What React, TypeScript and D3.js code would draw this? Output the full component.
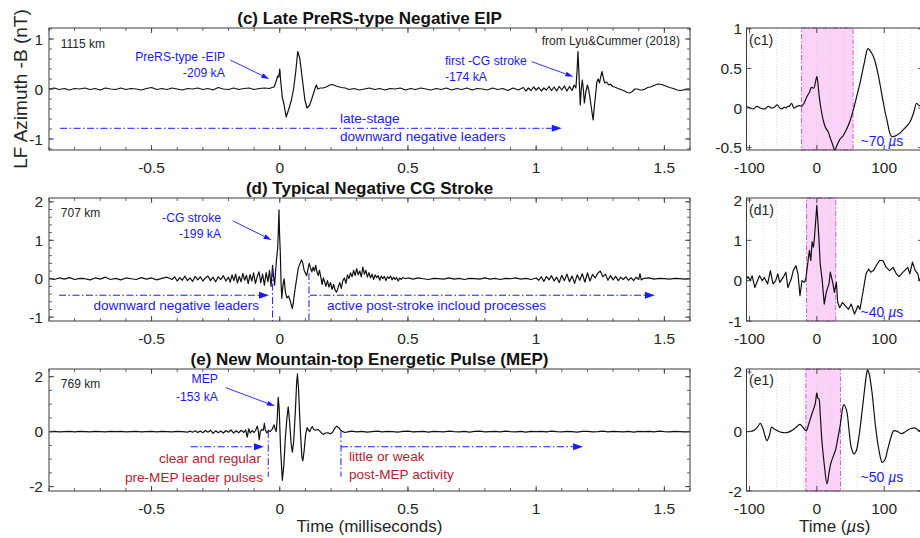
import React from "react";
import * as d3 from "d3";

type Pt = [number, number];

// ---- LF waveforms: [time (ms), azimuthal field -B (nT)] ----
const traceC: Pt[] = [
  [-0.9, 0.0], [-0.88, 0.02], [-0.86, -0.01], [-0.84, 0.01], [-0.82, -0.02], [-0.8, 0.01], [-0.78, 0.0], [-0.76, 0.02],
  [-0.74, -0.01], [-0.72, 0.01], [-0.7, -0.02], [-0.68, 0.02], [-0.66, 0.0], [-0.64, -0.01], [-0.62, 0.02], [-0.6, -0.01],
  [-0.58, 0.01], [-0.56, 0.0], [-0.54, -0.02], [-0.52, 0.01], [-0.5, 0.03], [-0.48, -0.01], [-0.46, 0.01], [-0.44, -0.01],
  [-0.42, 0.02], [-0.4, 0.0], [-0.38, -0.02], [-0.36, 0.01], [-0.34, 0.0], [-0.32, 0.02], [-0.3, -0.01], [-0.28, 0.01],
  [-0.26, -0.02], [-0.24, 0.03], [-0.22, 0.0], [-0.2, -0.01], [-0.18, 0.02], [-0.16, -0.01], [-0.14, 0.01], [-0.12, 0.02],
  [-0.1, -0.01], [-0.08, 0.01], [-0.06, 0.02], [-0.04, 0.01], [-0.03, 0.03], [-0.022, 0.04], [-0.015, 0.14], [-0.008, 0.26],
  [-0.004, 0.24], [0.0, 0.4], [0.004, 0.14], [0.01, -0.17], [0.017, -0.32], [0.025, -0.56], [0.034, -0.42], [0.044, -0.25],
  [0.054, 0.0], [0.063, 0.38], [0.07, 0.75], [0.078, 0.62], [0.088, 0.2], [0.098, -0.22], [0.106, -0.38], [0.116, -0.33],
  [0.128, -0.15], [0.138, 0.02], [0.143, 0.08], [0.148, 0.0], [0.158, 0.02], [0.17, 0.02], [0.185, 0.05], [0.195, 0.08],
  [0.205, 0.09], [0.215, 0.07], [0.225, 0.05], [0.24, 0.03], [0.255, 0.02], [0.27, -0.01], [0.29, 0.01], [0.31, -0.02],
  [0.33, 0.0], [0.35, 0.02], [0.37, -0.01], [0.39, 0.01], [0.41, -0.02], [0.43, 0.01], [0.45, 0.0], [0.47, 0.02],
  [0.49, -0.02], [0.51, 0.01], [0.53, -0.01], [0.55, 0.02], [0.57, 0.0], [0.59, -0.02], [0.61, 0.01], [0.63, -0.01],
  [0.65, 0.02], [0.67, -0.02], [0.69, 0.01], [0.71, -0.01], [0.73, 0.02], [0.75, -0.02], [0.77, 0.01], [0.79, 0.0],
  [0.81, -0.02], [0.83, 0.02], [0.85, -0.01], [0.87, 0.01], [0.89, -0.03], [0.91, 0.02], [0.93, -0.02], [0.95, 0.03],
  [0.96, -0.04], [0.97, 0.02], [0.98, -0.03], [0.99, 0.04], [1.0, -0.02], [1.01, 0.03], [1.02, -0.04], [1.03, 0.02],
  [1.04, -0.02], [1.05, 0.05], [1.06, -0.03], [1.07, 0.04], [1.08, -0.04], [1.09, 0.05], [1.1, -0.02], [1.11, 0.06],
  [1.12, -0.04], [1.13, 0.05], [1.14, -0.03], [1.148, 0.08], [1.155, 0.02], [1.16, 0.4], [1.163, 0.75], [1.167, 0.3],
  [1.172, -0.32], [1.176, 0.0], [1.18, 0.18], [1.184, 0.0], [1.188, -0.28], [1.194, -0.05], [1.2, 0.08], [1.205, -0.02],
  [1.21, -0.18], [1.216, -0.4], [1.222, -0.62], [1.227, -0.35], [1.232, -0.1], [1.237, 0.15], [1.242, 0.2], [1.247, 0.12],
  [1.252, 0.25], [1.257, 0.35], [1.262, 0.22], [1.267, 0.12], [1.275, 0.14], [1.283, 0.08], [1.29, 0.1], [1.298, 0.05],
  [1.306, 0.04], [1.315, 0.02], [1.325, 0.0], [1.335, -0.02], [1.345, -0.04], [1.355, -0.07], [1.365, -0.08], [1.375, -0.05],
  [1.385, 0.0], [1.395, 0.0], [1.405, -0.02], [1.415, -0.02], [1.425, 0.0], [1.435, 0.03], [1.445, 0.04], [1.46, 0.07],
  [1.475, 0.1], [1.49, 0.09], [1.505, 0.06], [1.52, 0.03], [1.535, 0.01], [1.55, -0.02], [1.565, -0.03], [1.58, -0.01],
  [1.6, -0.02],
];

const traceD: Pt[] = [
  [-0.9, 0.01], [-0.88, -0.02], [-0.86, 0.02], [-0.84, -0.01], [-0.82, 0.03], [-0.8, -0.02], [-0.78, 0.01], [-0.76, 0.0],
  [-0.74, -0.03], [-0.72, 0.02], [-0.7, -0.01], [-0.68, 0.04], [-0.66, -0.02], [-0.64, 0.01], [-0.62, -0.03], [-0.6, 0.02],
  [-0.58, 0.0], [-0.56, -0.02], [-0.54, 0.03], [-0.52, -0.01], [-0.5, 0.02], [-0.48, -0.03], [-0.46, 0.01], [-0.44, 0.04],
  [-0.42, -0.02], [-0.41, 0.05], [-0.4, -0.06], [-0.39, 0.03], [-0.38, -0.04], [-0.37, 0.07], [-0.36, -0.05], [-0.35, 0.02],
  [-0.34, -0.07], [-0.33, 0.06], [-0.32, -0.03], [-0.31, 0.05], [-0.3, -0.06], [-0.29, 0.02], [-0.28, 0.07], [-0.27, -0.05],
  [-0.26, 0.04], [-0.25, -0.08], [-0.24, 0.05], [-0.23, -0.02], [-0.22, 0.08], [-0.21, -0.06], [-0.2, 0.04], [-0.193, -0.09],
  [-0.186, 0.1], [-0.179, -0.05], [-0.172, 0.12], [-0.165, -0.11], [-0.158, 0.06], [-0.151, -0.08], [-0.144, 0.14], [-0.137, -0.04],
  [-0.13, 0.09], [-0.123, -0.13], [-0.116, 0.11], [-0.109, -0.06], [-0.102, 0.15], [-0.095, -0.12], [-0.088, 0.05], [-0.081, 0.18],
  [-0.074, -0.1], [-0.067, 0.12], [-0.06, -0.17], [-0.053, 0.16], [-0.046, -0.08], [-0.04, 0.22], [-0.034, -0.2], [-0.028, 0.35],
  [-0.024, 0.05], [-0.02, -0.17], [-0.016, 0.22], [-0.012, 0.55], [-0.008, 0.8], [-0.005, 1.35], [-0.003, 1.79], [-0.001, 1.2],
  [0.002, 0.7], [0.005, -0.1], [0.008, -0.51], [0.012, -0.2], [0.017, 0.0], [0.022, -0.35], [0.028, -0.5], [0.034, -0.45],
  [0.04, -0.55], [0.045, -0.68], [0.049, -0.78], [0.053, -0.62], [0.058, -0.35], [0.062, -0.17], [0.067, 0.05], [0.072, 0.27],
  [0.078, 0.38], [0.085, 0.49], [0.09, 0.4], [0.095, 0.22], [0.1, 0.15], [0.105, 0.08], [0.11, 0.25], [0.115, 0.4],
  [0.12, 0.28], [0.125, 0.18], [0.13, 0.3], [0.135, 0.2], [0.14, 0.35], [0.145, 0.18], [0.15, 0.08], [0.155, 0.22],
  [0.16, 0.05], [0.165, -0.15], [0.17, 0.02], [0.175, -0.08], [0.18, -0.2], [0.186, -0.05], [0.192, -0.22], [0.198, -0.1],
  [0.204, -0.28], [0.21, -0.15], [0.216, -0.3], [0.222, -0.35], [0.228, -0.22], [0.234, -0.1], [0.24, -0.25], [0.246, -0.05],
  [0.252, 0.02], [0.258, -0.12], [0.264, 0.1], [0.27, 0.0], [0.276, 0.15], [0.282, 0.05], [0.288, 0.22], [0.294, 0.08],
  [0.3, 0.26], [0.306, 0.1], [0.312, 0.2], [0.318, 0.05], [0.324, 0.3], [0.33, 0.12], [0.336, 0.22], [0.342, 0.04],
  [0.348, 0.16], [0.354, 0.02], [0.36, 0.12], [0.366, -0.02], [0.372, 0.1], [0.378, 0.03], [0.384, 0.08], [0.39, -0.04],
  [0.396, 0.07], [0.402, 0.0], [0.408, 0.06], [0.414, -0.05], [0.42, 0.05], [0.426, 0.01], [0.432, 0.07], [0.438, -0.03],
  [0.444, 0.04], [0.45, -0.02], [0.456, 0.03], [0.462, -0.06], [0.468, 0.02], [0.474, -0.02], [0.48, 0.03], [0.49, 0.0],
  [0.5, 0.02], [0.52, -0.01], [0.54, 0.02], [0.56, 0.0], [0.58, -0.02], [0.6, 0.01], [0.62, 0.0], [0.64, -0.01],
  [0.66, 0.02], [0.68, -0.01], [0.7, 0.01], [0.72, -0.02], [0.74, 0.01], [0.76, 0.0], [0.78, -0.01], [0.8, 0.02],
  [0.82, -0.01], [0.84, 0.01], [0.86, -0.02], [0.88, 0.01], [0.9, 0.0], [0.92, 0.02], [0.94, -0.01], [0.96, 0.01],
  [0.98, -0.02], [1.0, 0.02], [1.01, -0.04], [1.02, 0.05], [1.03, -0.07], [1.04, 0.06], [1.05, -0.03], [1.06, 0.08],
  [1.07, -0.06], [1.08, 0.04], [1.09, -0.1], [1.1, 0.09], [1.11, -0.05], [1.12, 0.12], [1.13, -0.08], [1.14, 0.07],
  [1.15, -0.12], [1.16, 0.1], [1.17, -0.04], [1.18, 0.13], [1.19, -0.09], [1.2, 0.15], [1.21, -0.06], [1.22, 0.11],
  [1.23, 0.02], [1.24, 0.14], [1.25, 0.2], [1.26, 0.05], [1.27, 0.12], [1.28, -0.04], [1.29, 0.08], [1.3, -0.03],
  [1.31, 0.06], [1.32, -0.05], [1.33, 0.04], [1.34, -0.02], [1.35, 0.05], [1.36, -0.04], [1.37, 0.03], [1.38, -0.05],
  [1.39, 0.04], [1.4, -0.02], [1.405, 0.13], [1.41, -0.03], [1.42, 0.01], [1.44, 0.02], [1.46, -0.01], [1.48, 0.01],
  [1.5, 0.0], [1.52, -0.01], [1.54, 0.01], [1.56, 0.0], [1.58, -0.01], [1.6, 0.0],
];

const traceE: Pt[] = [
  [-0.9, 0.0], [-0.88, 0.01], [-0.86, -0.01], [-0.84, 0.0], [-0.82, 0.01], [-0.8, -0.01], [-0.78, 0.01], [-0.76, 0.0],
  [-0.74, -0.01], [-0.72, 0.01], [-0.7, 0.0], [-0.68, -0.01], [-0.66, 0.01], [-0.64, 0.0], [-0.62, 0.01], [-0.6, -0.01],
  [-0.58, 0.0], [-0.56, 0.01], [-0.54, -0.01], [-0.52, 0.0], [-0.5, 0.01], [-0.48, -0.01], [-0.46, 0.01], [-0.44, 0.0],
  [-0.42, -0.01], [-0.4, 0.01], [-0.38, 0.0], [-0.36, -0.02], [-0.35, 0.02], [-0.34, -0.02], [-0.33, 0.03], [-0.32, -0.03],
  [-0.31, 0.02], [-0.3, -0.04], [-0.29, 0.04], [-0.28, -0.02], [-0.27, 0.05], [-0.26, -0.06], [-0.25, 0.03], [-0.24, -0.04],
  [-0.23, 0.02], [-0.22, -0.05], [-0.21, 0.04], [-0.2, -0.02], [-0.19, 0.06], [-0.18, -0.05], [-0.17, 0.03], [-0.16, -0.04],
  [-0.15, 0.05], [-0.14, -0.03], [-0.133, 0.06], [-0.127, -0.2], [-0.121, 0.1], [-0.115, -0.05], [-0.108, 0.04], [-0.1, -0.03],
  [-0.094, 0.05], [-0.088, 0.2], [-0.084, 0.05], [-0.08, -0.3], [-0.076, 0.0], [-0.07, 0.08], [-0.064, 0.05], [-0.06, 0.3],
  [-0.056, 0.05], [-0.05, -0.05], [-0.044, 0.05], [-0.038, 0.0], [-0.03, 0.08], [-0.022, 0.25], [-0.018, 0.1], [-0.014, 0.0],
  [-0.01, 0.45], [-0.006, 1.25], [-0.002, 0.8], [0.003, -0.6], [0.01, -1.77], [0.016, -1.2], [0.022, -0.2], [0.028, 0.5],
  [0.033, 0.9], [0.038, 0.4], [0.044, -0.4], [0.049, -0.75], [0.054, -0.4], [0.06, 0.6], [0.066, 1.8], [0.069, 2.1],
  [0.073, 1.6], [0.08, 0.1], [0.086, -0.9], [0.09, -1.06], [0.095, -0.7], [0.101, -0.1], [0.107, 0.15], [0.112, 0.05],
  [0.117, 0.0], [0.122, 0.12], [0.127, 0.18], [0.133, 0.08], [0.14, 0.05], [0.148, 0.08], [0.156, 0.02], [0.163, -0.05],
  [0.17, -0.1], [0.178, -0.05], [0.188, -0.04], [0.198, -0.08], [0.206, -0.02], [0.214, 0.12], [0.222, 0.2], [0.23, 0.15],
  [0.238, 0.05], [0.246, 0.0], [0.255, -0.03], [0.265, -0.01], [0.28, 0.02], [0.3, -0.01], [0.32, 0.01], [0.34, -0.02],
  [0.36, 0.0], [0.38, 0.02], [0.4, -0.01], [0.42, 0.01], [0.44, 0.0], [0.46, -0.02], [0.48, 0.01], [0.5, 0.02],
  [0.52, -0.01], [0.54, 0.0], [0.56, 0.01], [0.58, -0.02], [0.6, 0.01], [0.62, 0.0], [0.64, -0.01], [0.66, 0.02],
  [0.68, 0.0], [0.7, -0.01], [0.72, 0.01], [0.74, -0.02], [0.76, 0.01], [0.78, 0.02], [0.8, -0.01], [0.82, 0.0],
  [0.84, 0.01], [0.86, -0.01], [0.88, 0.02], [0.9, 0.0], [0.92, -0.01], [0.94, 0.01], [0.96, -0.02], [0.98, 0.01],
  [1.0, 0.0], [1.02, 0.01], [1.04, -0.01], [1.06, 0.02], [1.08, 0.0], [1.1, -0.01], [1.12, 0.01], [1.14, 0.0],
  [1.16, -0.02], [1.18, 0.01], [1.2, 0.01], [1.22, -0.01], [1.24, 0.0], [1.26, 0.02], [1.28, -0.01], [1.3, 0.01],
  [1.32, 0.0], [1.34, -0.01], [1.36, 0.01], [1.38, -0.02], [1.4, 0.01], [1.42, 0.0], [1.44, 0.01], [1.46, -0.01],
  [1.48, 0.02], [1.5, 0.0], [1.52, -0.01], [1.54, 0.01], [1.56, 0.0], [1.58, -0.01], [1.6, 0.0],
];

// ---- zoomed pulses: [time (µs), field (nT)] ----
const zoomC1: Pt[] = [
  [-104, 0.02], [-99, 0.0], [-94, -0.01], [-89, 0.02], [-84, 0.0], [-80, -0.01], [-77, -0.01], [-72, 0.02],
  [-67, 0.0], [-63, 0.01], [-59, 0.04], [-55, 0.0], [-52, -0.01], [-48, 0.01], [-46, 0.0], [-43, 0.02],
  [-41, 0.02], [-37.5, 0.06], [-34, 0.0], [-30, 0.02], [-26, 0.03], [-22.7, 0.02], [-19, 0.06], [-15, 0.14],
  [-11, 0.2], [-8, 0.26], [-4.5, 0.25], [-2, 0.33], [0, 0.4], [1.5, 0.32], [3.5, 0.15], [6, 0.0],
  [9.4, -0.15], [13, -0.25], [16.8, -0.3], [20, -0.38], [23, -0.45], [26.7, -0.53], [30, -0.47], [34, -0.4],
  [39, -0.35], [44, -0.27], [49, -0.17], [54, -0.03], [59, 0.14], [64, 0.31], [70, 0.55], [76, 0.75],
  [81, 0.7], [86, 0.6], [92, 0.38], [98, 0.1], [104, -0.15], [111, -0.36], [117, -0.35], [123, -0.32],
  [130, -0.26], [138, -0.18], [144, -0.05], [148, 0.06], [152, 0.03], [160, 0.05], [170, 0.02],
];

const zoomD1: Pt[] = [
  [-104, 0.05], [-102, 0.1], [-99, 0.0], [-96, 0.12], [-92, -0.17], [-89, -0.04], [-85, 0.12], [-81, 0.0],
  [-78, 0.08], [-73, -0.08], [-69, 0.25], [-65, -0.08], [-61, 0.0], [-58, 0.17], [-55, -0.04], [-50, 0.08],
  [-46, 0.21], [-43, -0.17], [-38, 0.04], [-35, 0.25], [-31, 0.37], [-28, 0.17], [-25, -0.37], [-22, 0.0],
  [-18, -0.04], [-16, 0.08], [-13, 0.5], [-11, 0.75], [-9, 0.5], [-7, 0.96], [-5, 0.83], [-3.5, 1.08],
  [0, 1.87], [3, 1.08], [5, 0.42], [8, 0.0], [11, -0.58], [14, -0.29], [18, -0.08], [20, 0.21],
  [24, -0.08], [26, -0.29], [29, -0.04], [31, -0.54], [34, -0.67], [38, -0.54], [42, -0.62], [47, -0.71],
  [51, -0.58], [56, -0.83], [61, -0.62], [64, -0.71], [68, -0.33], [73, 0.17], [77, 0.29], [80, 0.21],
  [84, 0.25], [88, 0.37], [93, 0.5], [98, 0.5], [103, 0.33], [108, 0.25], [113, 0.33], [118, 0.17],
  [122, 0.1], [128, 0.21], [135, 0.33], [138, 0.17], [142, 0.46], [146, 0.25], [150, 0.17], [152, 0.0],
  [156, 0.12], [162, 0.05], [170, 0.1],
];

const zoomE1: Pt[] = [
  [-104, 0.0], [-100, 0.0], [-94, 0.03], [-89, 0.12], [-84, 0.27], [-80, 0.1], [-77, -0.15], [-74, -0.31],
  [-70, -0.1], [-67, 0.15], [-63, 0.08], [-58, 0.02], [-52, -0.03], [-45, -0.04], [-38, 0.02], [-32, 0.12],
  [-25, 0.24], [-20, 0.12], [-16, 0.02], [-12, 0.25], [-7.5, 0.58], [-2.5, 0.92], [0, 1.3], [1.5, 1.12],
  [3, 1.1], [5, 0.6], [7.5, -0.31], [11, -1.1], [15, -1.76], [18, -1.4], [21, -1.05], [25, -0.8],
  [28, -0.6], [31, -0.25], [35, 0.25], [38, 0.75], [40, 0.9], [44, 0.72], [48, 0.0], [51, -0.53],
  [55, -0.75], [58, -0.68], [62, -0.25], [66, 0.45], [70, 1.24], [74, 1.95], [75.5, 2.08], [78, 1.9],
  [82, 1.3], [87, 0.2], [92, -0.6], [97, -1.04], [101, -0.95], [105, -0.62], [110, -0.2], [114, 0.02],
  [120, 0.0], [125, -0.07], [130, -0.03], [135, 0.05], [140, 0.1], [145, 0.12], [150, 0.05], [155, 0.0],
  [162, -0.03], [170, 0.02],
];

// ---- axis ticks and labels ----
const msTicks = [-0.5, 0, 0.5, 1, 1.5];
const usTicks = [-100, 0, 100];
const yTicksC = [-1, 0, 1];
const yTicksD = [-1, 0, 1, 2];
const yTicksE = [-2, 0, 2];
const yTicksC1 = [-0.5, 0, 0.5, 1];
const yTicksD1 = [-1, 0, 1, 2];
const yTicksE1 = [-2, 0, 2];

const titles = [
  "(c) Late PreRS-type Negative EIP",
  "(d) Typical Negative CG Stroke",
  "(e) New Mountain-top Energetic Pulse (MEP)",
];
const zoomTags = ["(c1)", "(d1)", "(e1)"];
const pulseWindows: Pt[] = [[-22.7, 53.8], [-15.3, 28.1], [-16.3, 35.1]];
const pulseWidthLabels = ["~70", "~40", "~50"];

// ---- styling ----
const FONT = '"Liberation Sans", Arial, Helvetica, sans-serif';
const AXIS = "#3c3c3c";
const INK = "#262626";
const BLUE = "#1a1aff";
const RED = "#b81c30";
const MAGENTA = "#d457d4";
const SHADE = "#fbd3f9";
const DASHDOT = "7 2.5 1.5 2.5";

const W = 920;
const H = 538;
const LEFT_X: Pt = [49, 690];
const RIGHT_X: Pt = [746.5, 923];
const ROWS: Pt[] = [[150, 28], [321, 198], [491, 369]];
const msDomain: Pt = [-0.9, 1.6];
const usDomain: Pt = [-104.4, 157.6];

type Note = { t: number; v: number; text: string; color: string; size: number; anchor?: "start" | "end" };
type Arrow = { t0: number; v0: number; t1: number; v1: number };
type Span = { t0: number; t1: number; v: number };
type Marker = { t: number; v0: number; v1: number };
type Annot = { notes: Note[]; arrows: Arrow[]; spans: Span[]; markers: Marker[] };

const annotations: Annot[] = [
  {
    notes: [
      { t: -0.854, v: 0.82, text: "1115 km", color: INK, size: 12 },
      { t: -0.564, v: 0.554, text: "PreRS-type -EIP", color: BLUE, size: 12.2 },
      { t: -0.378, v: 0.234, text: "-209 kA", color: BLUE, size: 12.2 },
      { t: 0.2348, v: -0.684, text: "late-stage", color: BLUE, size: 13.6 },
      { t: 0.2348, v: -1.046, text: "downward negative leaders", color: BLUE, size: 13.6 },
      { t: 1.561, v: 0.88, text: "from Lyu&Cummer (2018)", color: INK, size: 12, anchor: "end" },
      { t: 0.6443, v: 0.48, text: "first -CG stroke", color: BLUE, size: 12.2 },
      { t: 0.6443, v: 0.154, text: "-174 kA", color: BLUE, size: 12.2 },
    ],
    arrows: [
      { t0: -0.193, v0: 0.58, t1: -0.041, v1: 0.2 },
      { t0: 0.983, v0: 0.546, t1: 1.145, v1: 0.246 },
    ],
    spans: [{ t0: -0.857, t1: 1.1, v: -0.786 }],
    markers: [],
  },
  {
    notes: [
      { t: -0.854, v: 1.605, text: "707 km", color: INK, size: 12 },
      { t: -0.229, v: 1.475, text: "-CG stroke", color: BLUE, size: 12.2, anchor: "end" },
      { t: -0.229, v: 1.051, text: "-199 kA", color: BLUE, size: 12.2, anchor: "end" },
      { t: -0.081, v: -0.806, text: "downward negative leaders", color: BLUE, size: 13.6, anchor: "end" },
      { t: 0.184, v: -0.806, text: "active post-stroke incloud processes", color: BLUE, size: 13.6 },
    ],
    arrows: [{ t0: -0.184, v0: 1.509, t1: -0.032, v1: 1.007 }],
    spans: [
      { t0: -0.861, t1: -0.042, v: -0.43 },
      { t0: 0.118, t1: 1.463, v: -0.43 },
    ],
    markers: [
      { t: -0.028, v0: 0.226, v1: -1.1 },
      { t: 0.114, v0: 0.148, v1: -1.1 },
    ],
  },
  {
    notes: [
      { t: -0.854, v: 1.587, text: "769 km", color: INK, size: 12 },
      { t: -0.241, v: 1.758, text: "MEP", color: BLUE, size: 12.2, anchor: "end" },
      { t: -0.241, v: 1.113, text: "-153 kA", color: BLUE, size: 12.2, anchor: "end" },
      { t: -0.0733, v: -1.13, text: "clear and regular", color: RED, size: 13.6, anchor: "end" },
      { t: -0.0655, v: -1.834, text: "pre-MEP leader pulses", color: RED, size: 13.6, anchor: "end" },
      { t: 0.2699, v: -1.06, text: "little or weak", color: RED, size: 13.6 },
      { t: 0.2699, v: -1.725, text: "post-MEP activity", color: RED, size: 13.6 },
    ],
    arrows: [{ t0: -0.21, v0: 1.598, t1: -0.019, v1: 0.932 }],
    spans: [
      { t0: -0.3475, t1: -0.0616, v: -0.55 },
      { t0: 0.2387, t1: 1.183, v: -0.55 },
    ],
    markers: [
      { t: -0.0449, v0: 0.02, v1: -1.64 },
      { t: 0.2387, v0: 0.02, v1: -1.64 },
    ],
  },
];

const leftPanels = [
  { trace: traceC, yDomain: [-1.22, 1.22] as Pt, yTicks: yTicksC, yMinor: 0.2 },
  { trace: traceD, yDomain: [-1.1, 2.1] as Pt, yTicks: yTicksD, yMinor: 0.2 },
  { trace: traceE, yDomain: [-2.16, 2.28] as Pt, yTicks: yTicksE, yMinor: 0.5 },
];
const rightPanels = [
  { trace: zoomC1, yDomain: [-0.53, 1.01] as Pt, yTicks: yTicksC1, smooth: true, tagV: 0.8, noteV: -0.48 },
  { trace: zoomD1, yDomain: [-1, 2.05] as Pt, yTicks: yTicksD1, smooth: false, tagV: 1.63, noteV: -0.893 },
  { trace: zoomE1, yDomain: [-2, 2.1] as Pt, yTicks: yTicksE1, smooth: true, tagV: 1.56, noteV: -1.687 },
];

function headPoints(x0: number, y0: number, x1: number, y1: number, len: number, wid: number) {
  const a = Math.atan2(y1 - y0, x1 - x0);
  const bx = x1 - len * Math.cos(a);
  const by = y1 - len * Math.sin(a);
  const nx = (-Math.sin(a) * wid) / 2;
  const ny = (Math.cos(a) * wid) / 2;
  return { pts: `${x1},${y1} ${bx + nx},${by + ny} ${bx - nx},${by - ny}`, bx, by };
}

type Lin = d3.ScaleLinear<number, number>;

function Frame({ x, y, xMajor, xMinor, yMajor, yMinor, yLabelGap }: {
  x: Lin; y: Lin; xMajor: number[]; xMinor: number[]; yMajor: number[]; yMinor: number[]; yLabelGap: number;
}) {
  const [x0, x1] = x.range();
  const [yb, yt] = y.range();
  const major = 5;
  const minor = 3;
  return (
    <g>
      {xMinor.map((t, i) => (
        <g key={"xm" + i} stroke={AXIS} strokeWidth={0.8}>
          <line x1={x(t)} x2={x(t)} y1={yb} y2={yb - minor} />
          <line x1={x(t)} x2={x(t)} y1={yt} y2={yt + minor} />
        </g>
      ))}
      {yMinor.map((v, i) => (
        <g key={"ym" + i} stroke={AXIS} strokeWidth={0.8}>
          <line x1={x0} x2={x0 + minor} y1={y(v)} y2={y(v)} />
          <line x1={x1} x2={x1 - minor} y1={y(v)} y2={y(v)} />
        </g>
      ))}
      {xMajor.map((t) => (
        <g key={"xM" + t}>
          <line x1={x(t)} x2={x(t)} y1={yb} y2={yb - major} stroke={AXIS} strokeWidth={0.9} />
          <line x1={x(t)} x2={x(t)} y1={yt} y2={yt + major} stroke={AXIS} strokeWidth={0.9} />
          <text x={x(t)} y={yb + 22.5} textAnchor="middle" fontSize={15.5} fill={INK}>{String(t)}</text>
        </g>
      ))}
      {yMajor.map((v) => (
        <g key={"yM" + v}>
          <line x1={x0} x2={x0 + major} y1={y(v)} y2={y(v)} stroke={AXIS} strokeWidth={0.9} />
          <line x1={x1} x2={x1 - major} y1={y(v)} y2={y(v)} stroke={AXIS} strokeWidth={0.9} />
          <text x={x0 - yLabelGap} y={y(v) + 5.5} textAnchor="end" fontSize={15.5} fill={INK}>{String(v)}</text>
        </g>
      ))}
      <rect x={x0} y={yt} width={x1 - x0} height={yb - yt} fill="none" stroke={AXIS} strokeWidth={1} />
    </g>
  );
}

export default function App() {
  const xMs = d3.scaleLinear().domain(msDomain).range(LEFT_X);
  const xUs = d3.scaleLinear().domain(usDomain).range(RIGHT_X);
  const msMinor = d3.range(-0.9, 1.6001, 0.1).map((t) => Math.round(t * 10) / 10);
  const usGrid = d3.range(-100, 160, 20);

  return (
    <svg
      width={W}
      height={H}
      viewBox={`0 0 ${W} ${H}`}
      style={{ position: "absolute", left: 0, top: 0, background: "#fff" }}
      fontFamily={FONT}
    >
      <rect width={W} height={H} fill="#fff" />
      <defs>
        {ROWS.map((r, i) => (
          <React.Fragment key={i}>
            <clipPath id={`clipL${i}`}>
              <rect x={LEFT_X[0]} y={r[1]} width={LEFT_X[1] - LEFT_X[0]} height={r[0] - r[1]} />
            </clipPath>
            <clipPath id={`clipR${i}`}>
              <rect x={RIGHT_X[0]} y={r[1]} width={RIGHT_X[1] - RIGHT_X[0]} height={r[0] - r[1]} />
            </clipPath>
          </React.Fragment>
        ))}
      </defs>

      {leftPanels.map((p, i) => {
        const y = d3.scaleLinear().domain(p.yDomain).range(ROWS[i]);
        const line = d3.line<Pt>().x((d) => xMs(d[0])).y((d) => y(d[1]));
        const yMinor = d3
          .range(Math.ceil(p.yDomain[0] / p.yMinor) * p.yMinor, p.yDomain[1] + 1e-9, p.yMinor)
          .map((v) => Math.round(v * 100) / 100);
        const a = annotations[i];
        return (
          <g key={"L" + i}>
            <text x={(LEFT_X[0] + LEFT_X[1]) / 2} y={ROWS[i][1] - 4.5} textAnchor="middle" fontSize={17} fontWeight="bold" fill="#111">
              {titles[i]}
            </text>
            <path d={line(p.trace) || ""} fill="none" stroke="#111" strokeWidth={1.2} strokeLinejoin="round" clipPath={`url(#clipL${i})`} />
            {a.spans.map((s, k) => {
              const x0 = xMs(s.t0);
              const x1 = xMs(s.t1);
              const yy = y(s.v);
              const h = headPoints(x0, yy, x1, yy, 10, 7);
              return (
                <g key={"s" + k}>
                  <line x1={x0} x2={h.bx} y1={yy} y2={yy} stroke={BLUE} strokeWidth={1} strokeDasharray={DASHDOT} />
                  <polygon points={h.pts} fill={BLUE} />
                </g>
              );
            })}
            {a.markers.map((m, k) => (
              <line key={"m" + k} x1={xMs(m.t)} x2={xMs(m.t)} y1={y(m.v0)} y2={y(m.v1)} stroke={BLUE} strokeWidth={1} strokeDasharray={DASHDOT} />
            ))}
            {a.arrows.map((r, k) => {
              const x0 = xMs(r.t0);
              const y0 = y(r.v0);
              const x1 = xMs(r.t1);
              const y1 = y(r.v1);
              const h = headPoints(x0, y0, x1, y1, 8, 5);
              return (
                <g key={"a" + k}>
                  <line x1={x0} y1={y0} x2={h.bx} y2={h.by} stroke={BLUE} strokeWidth={0.9} />
                  <polygon points={h.pts} fill={BLUE} />
                </g>
              );
            })}
            {a.notes.map((n, k) => (
              <text key={"n" + k} x={xMs(n.t)} y={y(n.v)} fontSize={n.size} fill={n.color} textAnchor={n.anchor || "start"}>
                {n.text}
              </text>
            ))}
            <Frame x={xMs} y={y} xMajor={msTicks} xMinor={msMinor} yMajor={p.yTicks} yMinor={yMinor} yLabelGap={6} />
          </g>
        );
      })}

      {rightPanels.map((p, i) => {
        const y = d3.scaleLinear().domain(p.yDomain).range(ROWS[i]);
        const line = d3
          .line<Pt>()
          .x((d) => xUs(d[0]))
          .y((d) => y(d[1]))
          .curve(p.smooth ? d3.curveCatmullRom.alpha(0.5) : d3.curveLinear);
        const [w0, w1] = pulseWindows[i];
        const [yb, yt] = ROWS[i];
        return (
          <g key={"R" + i}>
            <rect x={xUs(w0)} y={yt} width={xUs(w1) - xUs(w0)} height={yb - yt} fill={SHADE} />
            {usGrid.map((t) => (
              <line key={t} x1={xUs(t)} x2={xUs(t)} y1={yt} y2={yb} stroke="#cfcfcf" strokeWidth={0.7} strokeDasharray="1 2" />
            ))}
            <rect x={xUs(w0)} y={yt} width={xUs(w1) - xUs(w0)} height={yb - yt} fill="none" stroke={MAGENTA} strokeWidth={1} strokeDasharray="5 2 1.5 2" />
            <path d={line(p.trace) || ""} fill="none" stroke="#111" strokeWidth={1.2} strokeLinejoin="round" clipPath={`url(#clipR${i})`} />
            <text x={xUs(-100.7)} y={y(p.tagV)} fontSize={14} fill={INK}>{zoomTags[i]}</text>
            <text x={xUs(65)} y={y(p.noteV)} fontSize={14} fill={BLUE}>
              {pulseWidthLabels[i]} <tspan fontStyle="italic">µ</tspan>s
            </text>
            <Frame x={xUs} y={y} xMajor={usTicks} xMinor={[]} yMajor={p.yTicks} yMinor={[]} yLabelGap={4.5} />
          </g>
        );
      })}

      <text transform={`translate(27,${(ROWS[0][0] + ROWS[0][1]) / 2}) rotate(-90)`} textAnchor="middle" fontSize={19} fill={INK}>
        LF Azimuth -B (nT)
      </text>
      <text x={(LEFT_X[0] + LEFT_X[1]) / 2} y={531.5} textAnchor="middle" fontSize={17} fill={INK}>
        Time (milliseconds)
      </text>
      <text x={(RIGHT_X[0] + RIGHT_X[1]) / 2} y={531.5} textAnchor="middle" fontSize={17} fill={INK}>
        Time (<tspan fontStyle="italic">µ</tspan>s)
      </text>
    </svg>
  );
}
